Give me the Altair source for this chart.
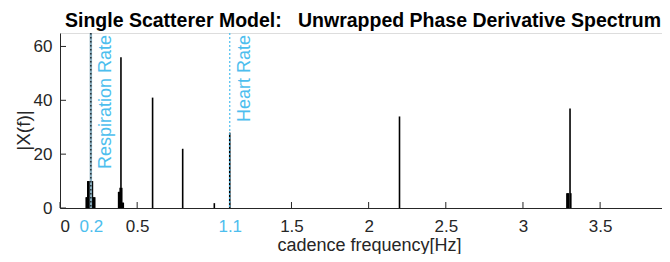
import altair as alt
import pandas as pd

# spectrum samples (Hz, |X(f)|)
freq = [0.17, 0.175, 0.18, 0.185, 0.19, 0.195, 0.2, 0.205, 0.21, 0.215, 0.22, 0.225,
        0.38, 0.385, 0.39, 0.395, 0.4, 0.405, 0.41,
        0.6, 0.795, 1.0, 1.1, 2.2,
        3.285, 3.29, 3.295, 3.305, 3.31]
mag = [4, 4, 10, 10, 10, 10, 10, 10, 10, 4, 4, 4,
       6, 6, 7.5, 56, 7.5, 2, 2,
       41, 22, 1.8, 28, 34,
       5.5, 5.5, 5.5, 37, 5.5]

x_ticks = [0, 0.2, 0.5, 1.1, 1.5, 2, 2.5, 3, 3.5]
y_ticks = [0, 20, 40, 60]
line_freq = [0.2, 1.1]
line_label = ["Respiration Rate", "Heart Rate"]
title_text = ["Single Scatterer Model:\u00a0\u00a0 Unwrapped Phase Derivative Spectrum"]

FONT = "Liberation Sans"
CYAN = "#4DBEEE"
AX = "#262626"

spec = pd.DataFrame({"f": freq, "m": mag})
lines = pd.DataFrame({"f": line_freq, "label": line_label})
resp = lines[lines["label"] == "Respiration Rate"]
heart = lines[lines["label"] == "Heart Rate"]
xt = pd.DataFrame({"t": x_ticks})
yt = pd.DataFrame({"t": y_ticks})
tt = pd.DataFrame({"title": title_text})

xscale = alt.Scale(domain=[0, 3.901], nice=False, zero=False)
yscale = alt.Scale(domain=[0, 65], nice=False)

xaxis = alt.Axis(values=x_ticks, format="~g", ticks=False, tickSize=0, grid=False,
                 labelFont=FONT, labelFontSize=17, labelPadding=10,
                 labelColor=alt.expr("datum.value == 0.2 || datum.value == 1.1 ? '#4DBEEE' : '#262626'"),
                 domainColor=AX, domainWidth=1,
                 title="cadence frequency[Hz]", titleFont=FONT, titleFontSize=18,
                 titleFontWeight="normal", titleColor=AX, titleX=309, titleY=42,
                 titleBaseline="alphabetic", titleAlign="center")
yaxis = alt.Axis(values=y_ticks, ticks=False, tickSize=0, grid=False,
                 labelFont=FONT, labelFontSize=17, labelPadding=8, labelColor=AX,
                 domainColor=AX, domainWidth=1,
                 title="|X(f)|", titleFont=FONT, titleFontSize=19, titleFontWeight="normal",
                 titleColor=AX, titleX=-37, titleY=97, titleAngle=-90,
                 titleBaseline="middle", titleAlign="center")

stems = alt.Chart(spec).mark_rule(color="black", strokeWidth=1.6).encode(
    x=alt.X("f:Q", scale=xscale, axis=xaxis),
    y=alt.Y("m:Q", scale=yscale, axis=yaxis),
    y2=alt.datum(0),
)

resp_band = alt.Chart(resp).mark_rule(color="#86aabb", strokeWidth=2.4).encode(
    x=alt.X("f:Q", scale=xscale), y=alt.value(0), y2=alt.value(175))
resp_dots = alt.Chart(resp).mark_rule(color="black", strokeWidth=1.1, strokeDash=[1.5, 2.5]).encode(
    x=alt.X("f:Q", scale=xscale), y=alt.value(0), y2=alt.value(175))
heart_line = alt.Chart(heart).mark_rule(color=CYAN, strokeWidth=1.2, strokeDash=[2, 2]).encode(
    x=alt.X("f:Q", scale=xscale), y=alt.value(0), y2=alt.value(175))

labels = alt.Chart(lines).mark_text(angle=270, align="right", baseline="top", dx=-2, dy=6,
                                    font=FONT, fontSize=18, color=CYAN).encode(
    x=alt.X("f:Q", scale=xscale), y=alt.value(0), text="label:N")

title_mark = alt.Chart(tt).mark_text(align="left", baseline="alphabetic", font=FONT, fontSize=19.5,
                                     fontWeight="bold", color="black").encode(
    x=alt.value(5), y=alt.value(-6), text="title:N")

xtick_marks = alt.Chart(xt).mark_rule(color=AX, strokeWidth=1).encode(
    x=alt.X("t:Q", scale=xscale), y=alt.value(175), y2=alt.value(169))
ytick_marks = alt.Chart(yt).mark_rule(color=AX, strokeWidth=1).encode(
    y=alt.Y("t:Q", scale=yscale), x=alt.value(0), x2=alt.value(6))

chart = alt.layer(stems, xtick_marks, ytick_marks, resp_band, resp_dots, heart_line, labels,
                  title_mark).properties(
    width=602, height=175,
    padding={"left": 52, "top": 25, "right": 0, "bottom": 46},
    autosize=alt.AutoSizeParams(type="none"),
).configure_view(stroke=None).configure(background="white")

chart.save("out.html", embed_options={"renderer": "svg", "actions": False})
